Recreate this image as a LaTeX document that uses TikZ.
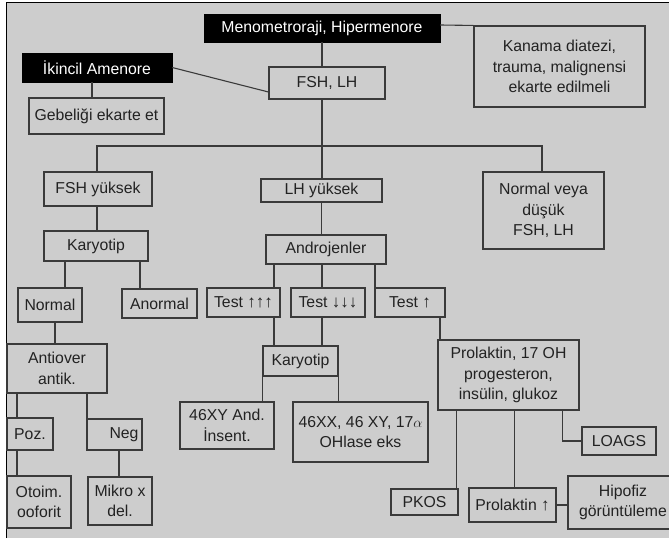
\documentclass[tikz,border=0pt]{standalone}
\usepackage{fontspec}
\setmainfont{Liberation Sans}
\definecolor{zemin}{HTML}{CDCDCD}
\definecolor{cizgi}{HTML}{3A3A3A}
\definecolor{yazi}{HTML}{222222}
\tikzset{
    kutu/.style={draw=cizgi, fill=zemin, text=yazi, line width=1.1pt, inner sep=1pt, align=center},
    siyah/.style={draw=black, fill=black, text=white, inner sep=1pt, align=center},
    bag/.style={draw=cizgi, line width=1.1pt}
}
\newcommand{\ok}[1]{{\fontsize{17}{17}\selectfont\raisebox{0.5pt}{#1}}}
\begin{document}
\begin{tikzpicture}[x=1pt, y=-1pt, font=\fontsize{15.8}{20.5}\selectfont]
\useasboundingbox (0,0) rectangle (669,538);
\clip (0,0) rectangle (669,538);
\fill[white] (0,0) rectangle (669,538);
\fill[zemin] (6,2) rectangle (669,538);
\draw[black, line width=1.6pt] (6.5,538) -- (6.5,2.5) -- (669,2.5);

% ust kisim
\node[siyah, minimum width=236pt, minimum height=28pt] (meno) at (322,28) {Menometroraji, Hipermenore};
\node[siyah, minimum width=150pt, minimum height=29pt] (ikincil) at (97,67.5) {İkincil Amenore};
\node[kutu, minimum width=116pt, minimum height=32pt] (fsh) at (327,83) {FSH, LH};
\node[kutu, minimum width=135pt, minimum height=36pt] (gebe) at (96.5,116) {Gebeliği ekarte et};
\node[kutu, minimum width=171pt, minimum height=81pt] (kanama) at (559.5,66.5) {Kanama diatezi,\\trauma, malignensi\\ekarte edilmeli};

% ikinci sira
\node[kutu, minimum width=108pt, minimum height=34pt] (fshy) at (98,189) {FSH yüksek};
\node[kutu, minimum width=121pt, minimum height=23pt] (lhy) at (321.5,190.5) {LH yüksek};
\node[kutu, minimum width=121pt, minimum height=77pt] (normv) at (543.5,210.5) {Normal veya\\düşük\\FSH, LH};
\node[kutu, minimum width=104pt, minimum height=30pt] (kary1) at (96,246) {Karyotip};
\node[kutu, minimum width=120pt, minimum height=29pt] (andro) at (326,249.5) {Androjenler};

% testler
\node[kutu, minimum width=64pt, minimum height=34pt] (normal) at (50,305) {Normal};
\node[kutu, minimum width=75pt, minimum height=29pt] (anormal) at (159.5,303.5) {Anormal};
\node[kutu, minimum width=73pt, minimum height=29pt] (t1) at (243.5,302.5) {Test \ok{↑↑↑}};
\node[kutu, minimum width=74pt, minimum height=29pt] (t2) at (328,302.5) {Test \ok{↓↓↓}};
\node[kutu, minimum width=70pt, minimum height=29pt] (t3) at (410,302.5) {Test \ok{↑}};

% alt kisim
\node[kutu, minimum width=100pt, minimum height=49pt] (antiov) at (57,368.5) {Antiover\\antik.};
\node[kutu, minimum width=75pt, minimum height=30pt] (kary2) at (300.5,361) {Karyotip};
\node[kutu, minimum width=141pt, minimum height=70pt] (prol) at (508.5,375) {Prolaktin, 17 OH\\progesteron,\\insülin, glukoz};
\node[kutu, minimum width=94pt, minimum height=47pt] (xy) at (227,425.5) {46XY And.\\İnsent.};
\node[kutu, minimum width=135pt, minimum height=60pt] (xx) at (360.5,432) {46XX, 46 XY, 17$\alpha$\\OHlase eks};
\node[kutu, minimum width=46pt, minimum height=32pt] (poz) at (30,434) {Poz.};
\node[kutu, minimum width=55pt, minimum height=31pt, text width=48pt, align=right] (neg) at (114.5,434.5) {Neg};
\node[kutu, minimum width=74pt, minimum height=28pt] (loags) at (619,441) {LOAGS};
\node[kutu, minimum width=64pt, minimum height=52pt] (otoim) at (39,502) {Otoim.\\ooforit};
\node[kutu, minimum width=64pt, minimum height=48pt] (mikro) at (120,501) {Mikro x\\del.};
\node[kutu, minimum width=67pt, minimum height=26pt] (pkos) at (424.5,502) {PKOS};
\node[kutu, minimum width=87pt, minimum height=34pt] (prolup) at (512.5,505) {Prolaktin \ok{↑}};
\node[kutu, minimum width=110pt, minimum height=53pt] (hipo) at (623,502.5) {Hipofiz\\görüntüleme};

% baglantilar
\draw[bag] (meno.south) -- (meno.south |- fsh.north);
\draw[bag] (ikincil.east) -- ([yshift=-9pt]fsh.west);
\draw[bag] ([yshift=3pt]meno.east) -- (kanama.north west);
\draw[bag] ([xshift=-5pt]ikincil.south) -- ([xshift=-5pt]ikincil.south |- gebe.north);
\coordinate (bus) at (322,146);
\draw[bag] (meno.south |- fsh.south) -- (meno.south |- lhy.north);
\draw[bag] ([xshift=-1pt]fshy.north) |- (bus) -| ([xshift=-1.5pt]normv.north);
\draw[bag] ([xshift=-1pt]fshy.south) -- ([xshift=-1pt]fshy.south |- kary1.north);
\draw[bag] ([xshift=-31pt]kary1.south) -- ([xshift=-31pt]kary1.south |- normal.north);
\draw[bag] ([xshift=44pt]kary1.south) -- ([xshift=44pt]kary1.south |- anormal.north);
\draw[bag] (lhy.south) -- (lhy.south |- andro.north);
\foreach \x/\t in {-52/t1, -4/t2, 49/t3}
    \draw[bag] ([xshift=\x pt]andro.south) -- ([xshift=\x pt]andro.south |- \t.north);
\foreach \x/\t in {-52/t1, -4/t2}
    \draw[bag] ([xshift=\x pt]andro.south |- \t.south) -- ([xshift=\x pt]andro.south |- kary2.north);
\draw[bag] (kary2.south west) -- (kary2.south west |- xy.north);
\draw[bag] (kary2.south east) -- (kary2.south east |- xx.north);
\draw[bag] ([xshift=30pt]t3.south) -- ([xshift=30pt]t3.south |- prol.north);
\draw[bag] ([xshift=-52pt]prol.south) -- ([xshift=-52pt]prol.south |- pkos.north);
\draw[bag] ([xshift=6pt]prol.south) -- ([xshift=6pt]prol.south |- prolup.north);
\draw[bag] ([xshift=54pt]prol.south) |- (loags.west);
\draw[bag] (prolup.east) -- (prolup.east -| hipo.west);
\draw[bag] ([xshift=5pt]normal.south) -- ([xshift=5pt]normal.south |- antiov.north);
\draw[bag] ([xshift=-40pt]antiov.south) -- ([xshift=-40pt]antiov.south |- poz.north);
\draw[bag] ([xshift=-40pt]antiov.south |- poz.south) -- ([xshift=-40pt]antiov.south |- otoim.north);
\draw[bag] ([xshift=30pt]antiov.south) -- ([xshift=30pt]antiov.south |- neg.north);
\draw[bag] ([xshift=4.5pt]neg.south) -- ([xshift=4.5pt]neg.south |- mikro.north);
\end{tikzpicture}
\end{document}
